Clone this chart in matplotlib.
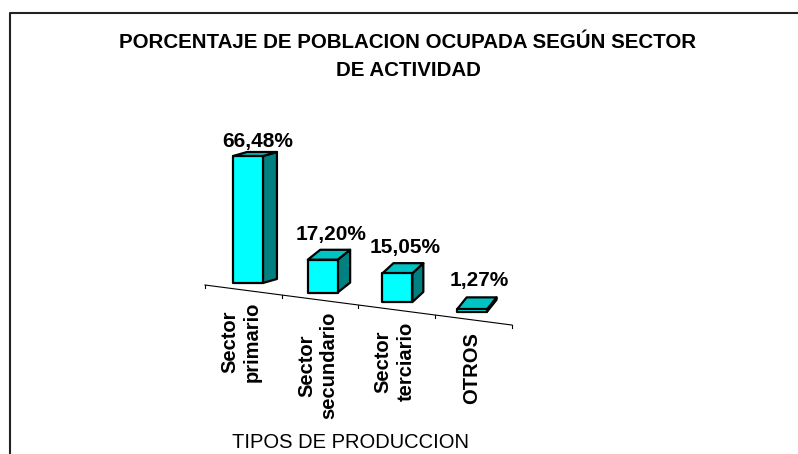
import numpy as np
import matplotlib.pyplot as plt
from matplotlib.patches import Polygon
from matplotlib.lines import Line2D

plt.rcParams['font.family'] = ['Liberation Sans', 'DejaVu Sans']

categories = ["Sector\nprimario", "Sector\nsecundario", "Sector\nterciario", "OTROS"]
values = [66.48, 17.20, 15.05, 1.27]
title_lines = ["PORCENTAJE DE POBLACION OCUPADA SEGÚN SECTOR", "DE ACTIVIDAD"]
xlabel = "TIPOS DE PRODUCCION"

# pixel size of one data unit (x: one category, y: one percent)
PX_X, PX_Y = 74.7, 1.91
FLOOR_SLOPE = 5.0      # floor drops to the right (percent units per category)
BAR_W = 0.40

FRONT = "#00ffff"
TOP = "#00c4c4"
SIDE = "#008080"


def depth_x(i):
    return (14 - 1.5 * i) / PX_X


def depth_y(v):
    # top face shows more when the bar is lower
    return (12 - 0.12 * v) / PX_Y


def floor_y(x):
    return -1.05 - 5.1 * (x + 0.576)


fig = plt.figure(figsize=(7.98, 4.54), dpi=100)
ax = fig.add_axes([0, 0, 1, 1])
ax.set_xlim(-248 / PX_X, (798 - 248) / PX_X)
ax.set_ylim(-(454 - 283) / PX_Y, 283 / PX_Y)
ax.axis("off")

# floor line with ticks
x0, x1 = -0.576, 3.534
ax.plot([x0, x1], [floor_y(x0), floor_y(x1)], color="black", lw=0.8)
ticks = np.linspace(x0, x1, len(categories) + 1)
for t in ticks:
    ax.plot([t, t], [floor_y(t), floor_y(t) - 3 / PX_Y], color="black", lw=0.8)

for i, (cat, v) in enumerate(zip(categories, values)):
    b = -FLOOR_SLOPE * i
    xa, xb = i - BAR_W / 2, i + BAR_W / 2
    dx, dy = depth_x(i), depth_y(v)
    side = [(xb, b), (xb + dx, b + dy), (xb + dx, b + v + dy), (xb, b + v)]
    top = [(xa, b + v), (xb, b + v), (xb + dx, b + v + dy), (xa + dx, b + v + dy)]
    front = [(xa, b), (xb, b), (xb, b + v), (xa, b + v)]
    for pts, col in [(side, SIDE), (top, TOP), (front, FRONT)]:
        ax.add_patch(Polygon(pts, closed=True, facecolor=col, edgecolor="black",
                             lw=1.6, joinstyle="round"))
    gap = (11 - 0.085 * v) / PX_Y
    ax.text(i + dx / 2 + 0.03, b + v + dy + gap, f"{v:.2f}%".replace(".", ","),
            ha="center", va="baseline", fontsize=15, fontweight="bold")

    xm = (ticks[i] + ticks[i + 1]) / 2
    ax.text(xm - 0.03, floor_y(xm) - 12 / PX_Y, cat, rotation=90, ha="center", va="top",
            fontsize=14.5, fontweight="bold", multialignment="center",
            linespacing=1.25)

fig.text(350 / 798, 1 - 443 / 454, xlabel, ha="center", va="center", fontsize=14.5)
fig.text(408 / 798, 1 - 43 / 454, title_lines[0], ha="center", va="center",
         fontsize=14.8, fontweight="bold")
fig.text(408 / 798, 1 - 70 / 454, title_lines[1], ha="center", va="center",
         fontsize=14.8, fontweight="bold")

# chart frame (top and left edges visible)
fig.add_artist(Line2D([10 / 798, 10 / 798, 1.0], [0.0, 1 - 13 / 454, 1 - 13 / 454],
                      transform=fig.transFigure, color="#222222", lw=1.5))

fig.savefig("out.png", dpi=100)
